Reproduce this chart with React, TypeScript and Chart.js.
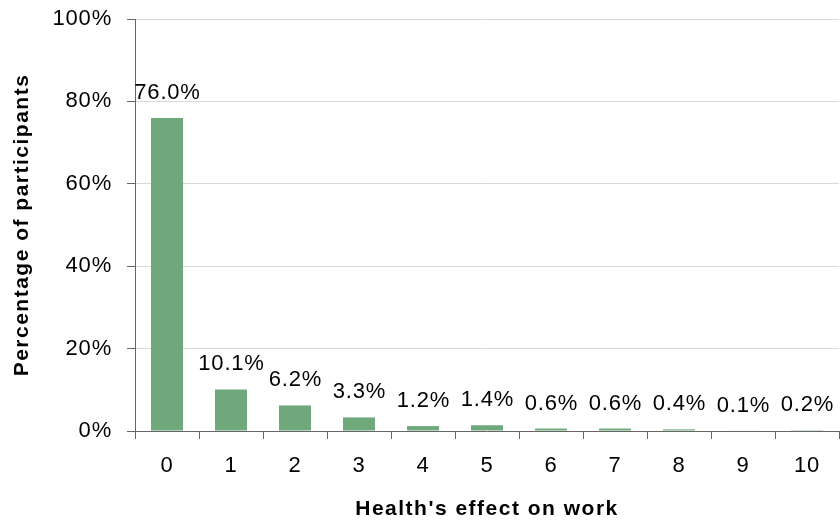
import React, { useEffect, useRef } from 'react';
import { Chart, registerables } from 'chart.js';

Chart.register(...registerables);

const categories = ['0', '1', '2', '3', '4', '5', '6', '7', '8', '9', '10'];
const percentages = [76.0, 10.1, 6.2, 3.3, 1.2, 1.4, 0.6, 0.6, 0.4, 0.1, 0.2];
const yMin = 0;
const yMax = 100;
const yStep = 20;
const xTitle = "Health's effect on work";
const yTitle = 'Percentage of participants';

const FONT = '"Liberation Sans", Arial, sans-serif';
const TEXT_SPACING = '0.8px';
const TITLE_SPACING = '1.5px';

const spacingPlugin = {
  id: 'spacing',
  beforeDraw(chart: any) {
    (chart.ctx as any).letterSpacing = TEXT_SPACING;
  },
};

const labelPlugin = {
  id: 'barLabels',
  afterDatasetsDraw(chart: any) {
    const ctx = chart.ctx;
    const meta = chart.getDatasetMeta(0);
    ctx.save();
    (ctx as any).letterSpacing = TEXT_SPACING;
    ctx.font = `22px ${FONT}`;
    ctx.fillStyle = '#000';
    ctx.textAlign = 'center';
    ctx.textBaseline = 'alphabetic';
    meta.data.forEach((bar: any, i: number) => {
      ctx.fillText(percentages[i].toFixed(1) + '%', bar.x + 0.5, bar.y - 19);
    });
    ctx.restore();
  },
};

function wrapTitle(scale: any) {
  if (scale.__wrapped) return;
  scale.__wrapped = true;
  const orig = scale.drawTitle;
  scale.drawTitle = function (...args: any[]) {
    const ctx = this.ctx;
    const prev = ctx.letterSpacing;
    ctx.letterSpacing = TITLE_SPACING;
    orig.apply(this, args);
    ctx.letterSpacing = prev;
  };
}

export default function App() {
  const ref = useRef<HTMLCanvasElement>(null);
  useEffect(() => {
    if (!ref.current) return;
    const chart = new Chart(ref.current, {
      type: 'bar',
      data: {
        labels: categories,
        datasets: [
          {
            data: percentages,
            backgroundColor: '#6FA87B',
            borderWidth: 0,
            categoryPercentage: 1,
            barPercentage: 0.5,
          },
        ],
      },
      options: {
        responsive: false,
        animation: false,
        devicePixelRatio: 1,
        layout: { padding: { top: 19, right: 1, left: 0, bottom: 0 } },
        plugins: {
          legend: { display: false },
          tooltip: { enabled: false },
        },
        scales: {
          x: {
            offset: true,
            grid: {
              offset: true,
              drawOnChartArea: false,
              drawTicks: true,
              tickLength: 8,
              tickColor: '#666666',
              color: '#666666',
            },
            border: { display: true, color: '#666666', width: 1 },
            ticks: {
              color: '#000',
              font: { family: FONT, size: 22 },
              padding: 14,
              maxRotation: 0,
              autoSkip: false,
            },
            title: {
              display: true,
              text: xTitle,
              color: '#000',
              font: { family: FONT, size: 21, weight: 'bold' },
              padding: { top: 0, bottom: 2 },
            },
            afterFit(scale: any) {
              scale.height = 93;
              scale.paddingLeft = 0;
              scale.paddingRight = 0;
              wrapTitle(scale);
            },
          },
          y: {
            min: yMin,
            max: yMax,
            ticks: {
              stepSize: yStep,
              color: '#000',
              font: { family: FONT, size: 22 },
              padding: 15,
              callback: (v: any) => v + '%',
            },
            grid: {
              color: '#D9D9D9',
              tickColor: '#666666',
              tickLength: 8,
              drawTicks: true,
            },
            border: { display: true, color: '#666666', width: 1 },
            title: {
              display: true,
              text: yTitle,
              color: '#000',
              font: { family: FONT, size: 21, weight: 'bold' },
              padding: { top: 10, bottom: 0 },
            },
            afterFit(scale: any) {
              scale.width = 135;
              scale.paddingTop = 0;
              scale.paddingBottom = 0;
              wrapTitle(scale);
            },
          },
        },
      },
      plugins: [spacingPlugin, labelPlugin],
    } as any);
    return () => chart.destroy();
  }, []);
  return (
    <div style={{ position: 'fixed', left: 0, top: 0, width: 840, height: 524, background: '#fff' }}>
      <canvas ref={ref} width={840} height={524} />
    </div>
  );
}
